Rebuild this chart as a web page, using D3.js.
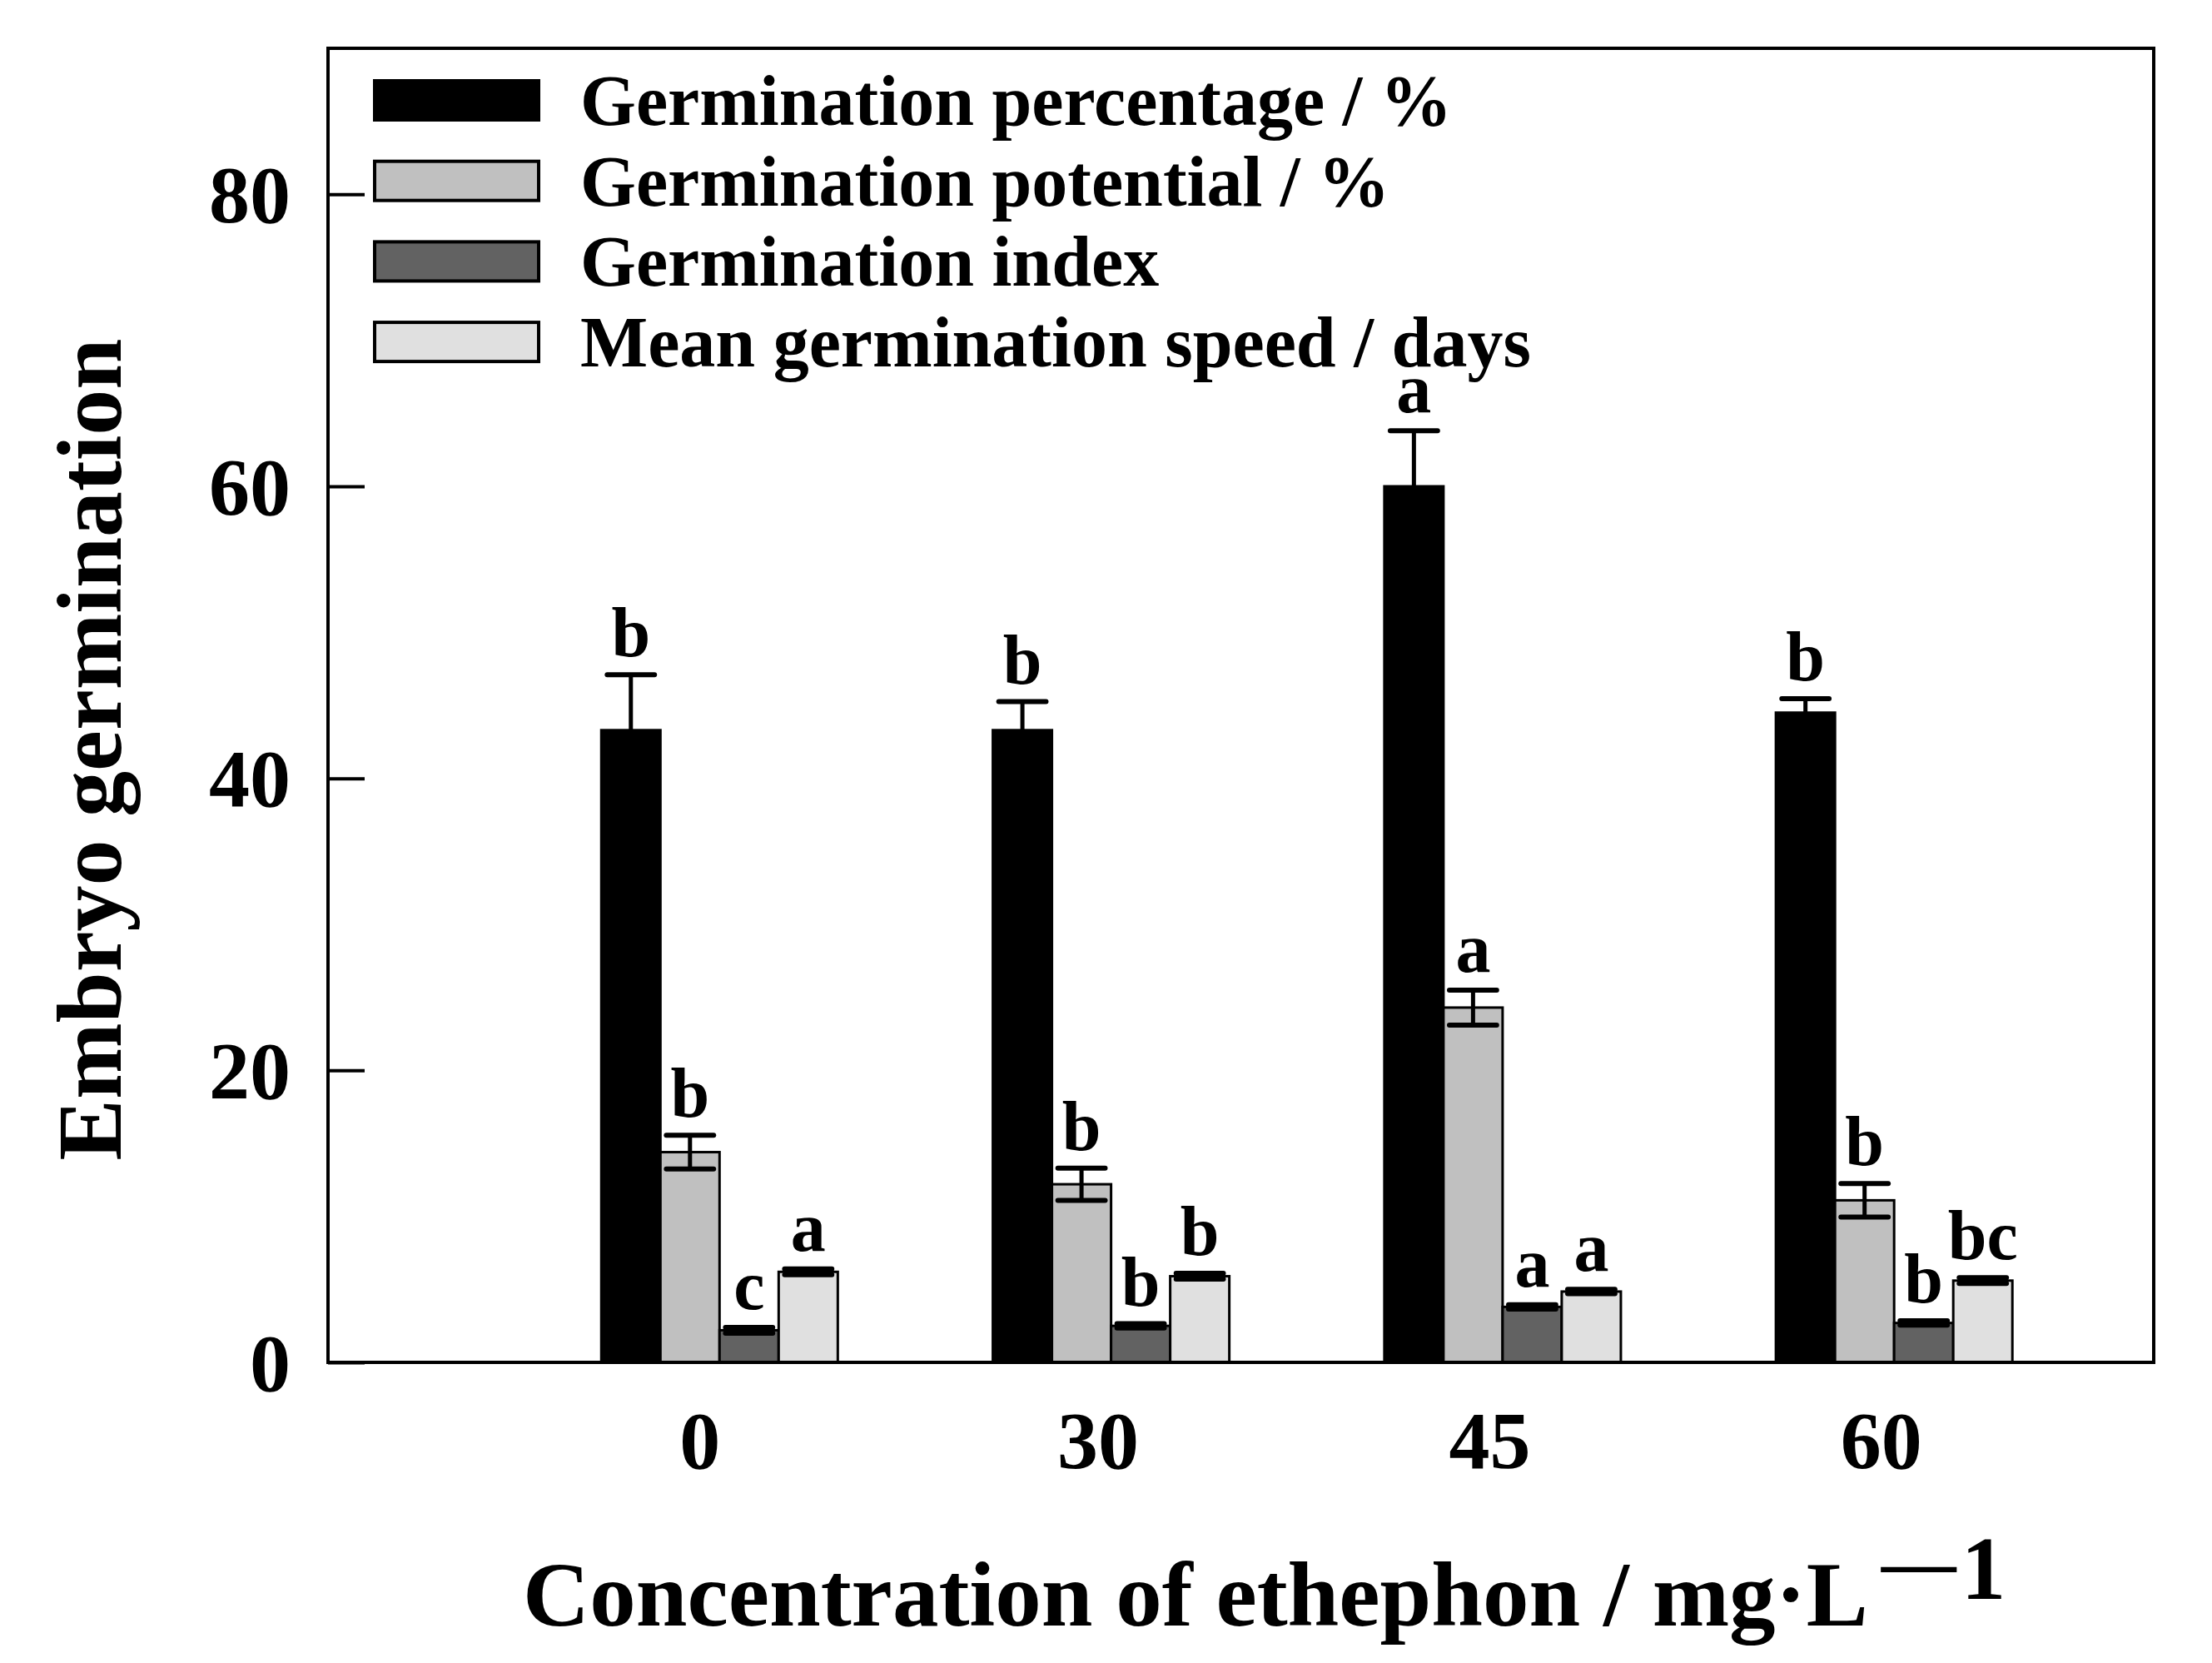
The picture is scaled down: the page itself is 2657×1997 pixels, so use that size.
<!DOCTYPE html>
<html><head><meta charset="utf-8">
<script src="https://cdn.jsdelivr.net/npm/d3@7"></script>
<style>
html,body{margin:0;padding:0;background:#fff;}
svg{display:block;}
text{font-family:"Liberation Serif","Times New Roman",serif;font-weight:bold;fill:#000;}
</style>
</head><body>
<svg id="chart" width="2657" height="1997"></svg>
<script>
// ---- data ----
const categories = ["0", "30", "45", "60"];
const seriesNames = ["Germination percentage / %", "Germination potential / %", "Germination index", "Mean germination speed / days"];
const germPercentage    = [43.3, 43.3, 60.0, 44.5];
const germPercentageErr = [3.8, 1.95, 3.8, 0.95];
const germPotential     = [14.4, 12.2, 24.3, 11.1];
const germPotentialErr  = [1.15, 1.1, 1.2, 1.15];
const germIndex         = [2.2, 2.5, 3.8, 2.7];
const germIndexErr      = [0.2, 0.15, 0.15, 0.15];
const meanSpeed         = [6.2, 5.9, 4.85, 5.6];
const meanSpeedErr      = [0.2, 0.2, 0.15, 0.2];
const lettersPercentage = ["b", "b", "a", "b"];
const lettersPotential  = ["b", "b", "a", "b"];
const lettersIndex      = ["c", "b", "a", "b"];
const lettersSpeed      = ["a", "b", "a", "bc"];
const yTicks = [0, 20, 40, 60, 80];
const seriesColors = ["#000000", "#c0c0c0", "#626262", "#e0e0e0"];

const series = [
  {name: seriesNames[0], vals: germPercentage, errs: germPercentageErr, letters: lettersPercentage},
  {name: seriesNames[1], vals: germPotential, errs: germPotentialErr, letters: lettersPotential},
  {name: seriesNames[2], vals: germIndex, errs: germIndexErr, letters: lettersIndex},
  {name: seriesNames[3], vals: meanSpeed, errs: meanSpeedErr, letters: lettersSpeed}
];

// ---- layout ----
const L = 394, R = 2587, T = 58, B = 1636;
const svg = d3.select("#chart");

const x = d3.scaleLinear().domain([0, 4.663]).range([L, R]);
const y = d3.scaleLinear().domain([0, 90]).range([B, T]);
const groupW = (x(1) - x(0)) * 0.604;
const sub = d3.scaleBand().domain(d3.range(series.length)).range([-groupW / 2, groupW / 2]).padding(0);
const bw = sub.bandwidth();

// bars
const g = svg.append("g");
series.forEach((s, si) => {
  g.selectAll(null).data(s.vals).enter().append("rect")
    .attr("x", (d, i) => x(i + 1) + sub(si))
    .attr("y", d => y(d))
    .attr("width", bw)
    .attr("height", d => y(0) - y(d))
    .attr("fill", seriesColors[si])
    .attr("stroke", "#000")
    .attr("stroke-width", 3);
});

// error bars + significance letters
const capW = bw * 0.8;
series.forEach((s, si) => {
  s.vals.forEach((v, i) => {
    const cx = x(i + 1) + sub(si) + bw / 2;
    const e = s.errs[i];
    g.append("line").attr("x1", cx).attr("x2", cx).attr("y1", y(v - e)).attr("y2", y(v + e))
      .attr("stroke", "#000").attr("stroke-width", 5);
    [v - e, v + e].forEach(val => {
      g.append("line").attr("x1", cx - capW / 2).attr("x2", cx + capW / 2)
        .attr("y1", y(val)).attr("y2", y(val))
        .attr("stroke", "#000").attr("stroke-width", 6).attr("stroke-linecap", "round");
    });
    g.append("text").attr("x", cx).attr("y", y(v + e) - 22)
      .attr("text-anchor", "middle").attr("font-size", 84)
      .text(s.letters[i]);
  });
});

// frame
svg.append("rect").attr("x", L).attr("y", T).attr("width", R - L).attr("height", B - T)
  .attr("fill", "none").attr("stroke", "#000").attr("stroke-width", 4);

// y axis
const yAxis = svg.append("g").attr("transform", `translate(${L},0)`)
  .call(d3.axisLeft(y).tickValues(yTicks).tickSize(-44).tickPadding(45).tickFormat(d3.format("d")));
yAxis.select(".domain").remove();
yAxis.selectAll(".tick line").attr("stroke", "#000").attr("stroke-width", 4);
yAxis.selectAll(".tick text").attr("font-size", 98).attr("font-family", null).attr("dy", "0.34em");

// x axis
const xAxis = svg.append("g").attr("transform", `translate(0,${B})`)
  .call(d3.axisBottom(x).tickValues(d3.range(1, categories.length + 1)).tickSize(0).tickPadding(57)
    .tickFormat(d => categories[d - 1]));
xAxis.select(".domain").remove();
xAxis.selectAll(".tick text").attr("font-size", 98).attr("font-family", null).attr("dx", (d, i) => i === 0 ? -24 : -16);

// axis titles
svg.append("text").attr("transform", "translate(145,900) rotate(-90)")
  .attr("text-anchor", "middle").attr("font-size", 110).text("Embryo germination");

const xt = svg.append("text").attr("x", 628).attr("y", 1952).attr("font-size", 111);
xt.append("tspan").text("Concentration of ethephon / mg·L");
xt.append("tspan").attr("dx", 16).attr("dy", -46).attr("font-size", 90).text("—");
xt.append("tspan").attr("dx", 6).attr("dy", 14).attr("font-size", 107).text("1");

// legend
const leg = svg.append("g");
series.forEach((s, si) => {
  const ly = 97 + si * 96.7;
  leg.append("rect").attr("x", 450).attr("y", ly).attr("width", 197).attr("height", 47)
    .attr("fill", seriesColors[si]).attr("stroke", "#000").attr("stroke-width", 4);
  leg.append("text").attr("x", 697).attr("y", ly + 53).attr("font-size", 86).text(s.name);
});
</script>
</body></html>
